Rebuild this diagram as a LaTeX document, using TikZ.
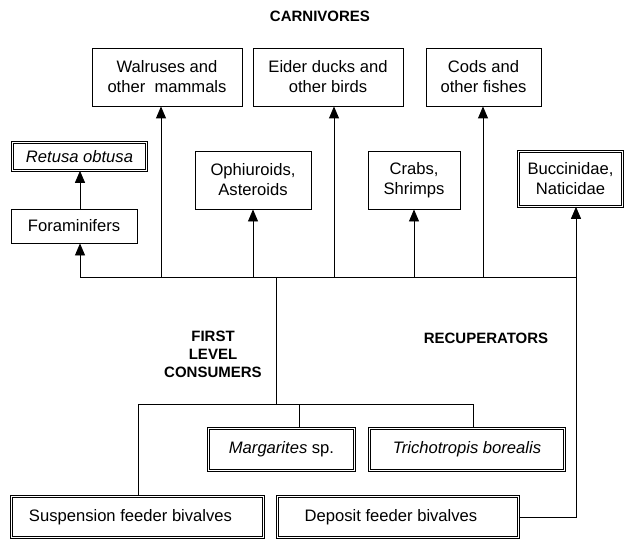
\documentclass[tikz,border=0pt]{standalone}
\usepackage{fontspec}
\setmainfont{Liberation Sans}
\usetikzlibrary{arrows.meta}
\begin{document}
\begin{tikzpicture}[x=1pt,y=-1pt,
  box/.style={draw, line width=0.9pt, inner sep=0pt, align=center,
    font=\fontsize{16.6}{20}\selectfont},
  dbox/.style={draw, double, double distance=1.6pt, line width=0.65pt, inner sep=0pt, align=center,
    font=\fontsize{16.6}{20}\selectfont},
  lbl/.style={align=center, font=\fontsize{15}{18}\selectfont\bfseries},
  ln/.style={line width=0.9pt},
  arr/.style={line width=0.9pt, -{Triangle[width=10pt,length=12pt]}}]
\useasboundingbox (0,0) rectangle (626,540);

% labels
\node[lbl] (carn) at (320,16) {CARNIVORES};
\node[lbl] (flc) at (213,354) {FIRST\\LEVEL\\CONSUMERS};
\node[lbl] (recup) at (486,338) {RECUPERATORS};

% carnivores
\node[box, minimum width=150pt, minimum height=58pt] (walrus) at (167,77) {Walruses and\\other\ \ mammals};
\node[box, minimum width=150pt, minimum height=58pt] (eider) at (328,77) {Eider ducks and\\other birds};
\node[box, minimum width=115pt, minimum height=58pt] (cods) at (483.5,77) {Cods and\\other fishes};

% middle level
\node[dbox, minimum width=134pt, minimum height=28pt] (retusa) at (79.5,156.5) {\itshape Retusa obtusa};
\node[box, minimum width=126pt, minimum height=34pt] (foram) at (74,226) {Foraminifers};
\node[box, minimum width=116pt, minimum height=58pt] (ophi) at (253,180) {Ophiuroids,\\Asteroids};
\node[box, minimum width=92pt, minimum height=58pt] (crabs) at (414,180) {Crabs,\\Shrimps};
\node[dbox, minimum width=104pt, minimum height=55pt] (bucc) at (570.5,179) {Buccinidae,\\Naticidae};

% lower level
\node[dbox, minimum width=146pt, minimum height=42pt] (marg) at (281.5,449.5) {\textit{Margarites} sp.};
\node[dbox, minimum width=195pt, minimum height=42pt] (trich) at (467,449.5) {\textit{Trichotropis borealis}};
\node[dbox, minimum width=252pt, minimum height=41pt] (susp) at (137.5,517) {Suspension feeder bivalves\hspace*{14pt}};
\node[dbox, minimum width=241pt, minimum height=41pt] (depos) at (398,517) {Deposit feeder bivalves\hspace*{14pt}};

% bus coordinates
\coordinate (b0) at (80,277);
\coordinate (b1) at (161,277);
\coordinate (b2) at (253,277);
\coordinate (bm) at (276,277);
\coordinate (b3) at (334,277);
\coordinate (b4) at (414,277);
\coordinate (b5) at (483,277);
\coordinate (b6) at (576,277);
\coordinate (l0) at (138,404);
\coordinate (lm) at (276,404);
\coordinate (l1) at (299,404);
\coordinate (l2) at (473,404);
\coordinate (rc) at (576,517);

% upper bus
\draw[ln] (b0) -- (b6);
\draw[arr] (b0) -- (b0 |- foram.south);
\draw[arr] (b0 |- foram.north) -- (b0 |- retusa.south);
\draw[arr] (b1) -- (b1 |- walrus.south);
\draw[arr] (b2) -- (b2 |- ophi.south);
\draw[arr] (b3) -- (b3 |- eider.south);
\draw[arr] (b4) -- (b4 |- crabs.south);
\draw[arr] (b5) -- (b5 |- cods.south);

% main trunk and lower bus
\draw[ln] (bm) -- (lm);
\draw[ln] (l0) -- (l2);
\draw[ln] (l0) -- (l0 |- susp.north);
\draw[ln] (l1) -- (l1 |- marg.north);
\draw[ln] (l2) -- (l2 |- trich.north);

% recuperators
\draw[arr] (depos.east) -- (rc) -- (rc |- bucc.south);
\end{tikzpicture}
\end{document}
